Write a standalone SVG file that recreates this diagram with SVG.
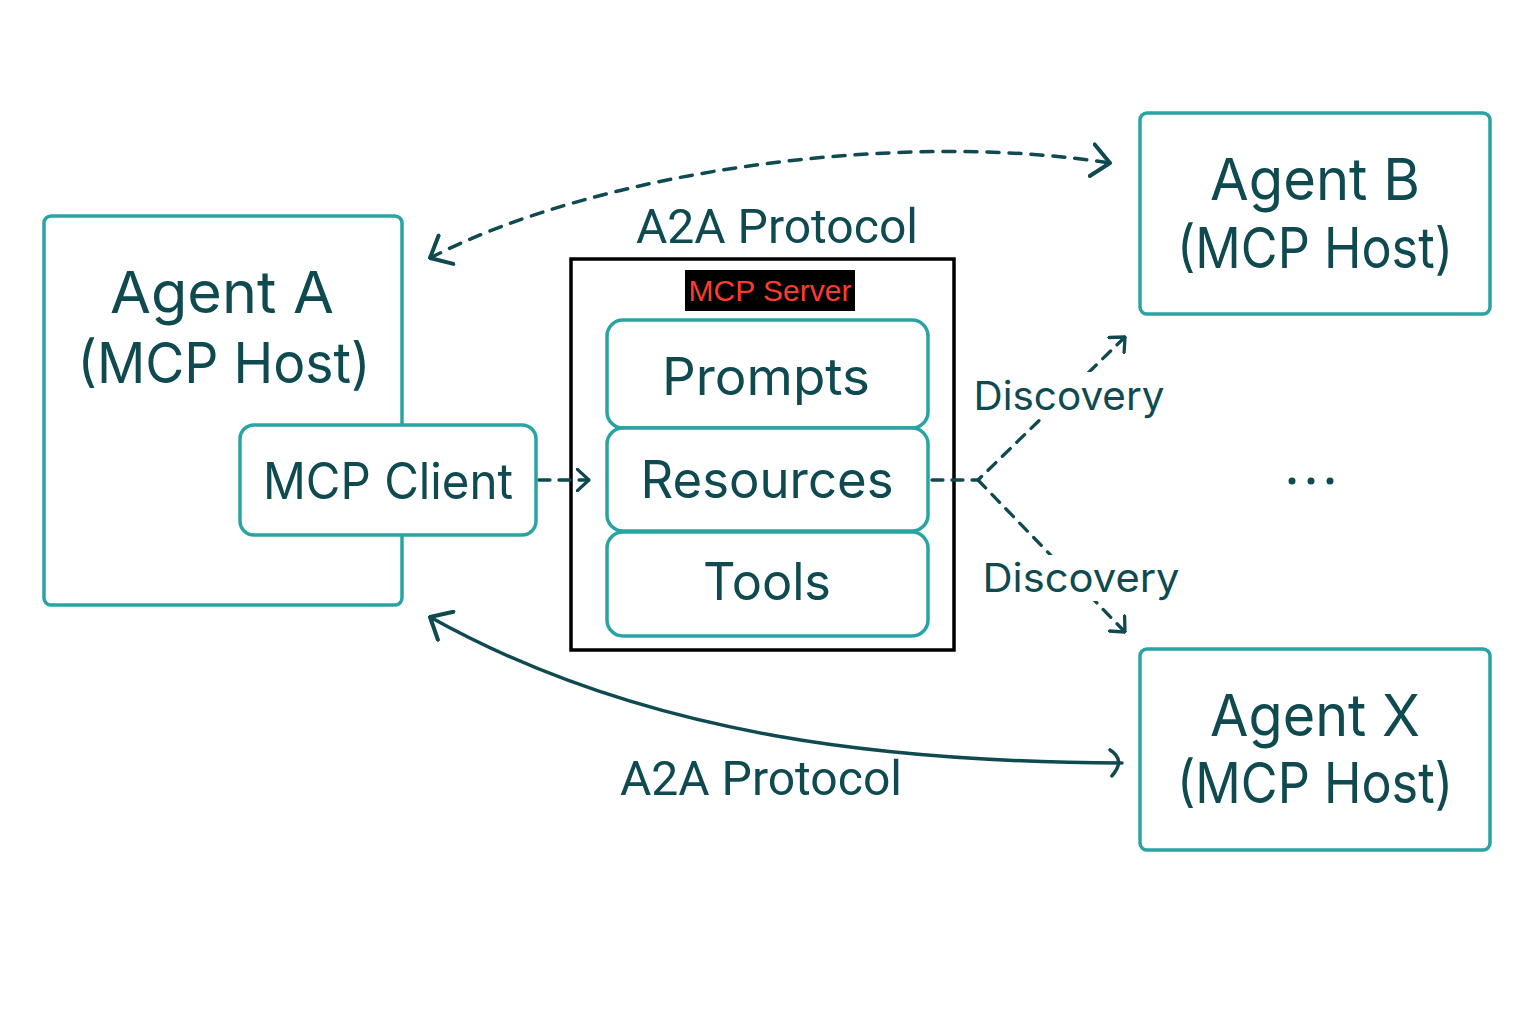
<svg xmlns="http://www.w3.org/2000/svg" width="1536" height="1024" viewBox="0 0 1536 1024">
<defs>
<style>
.box{fill:#fff;stroke:#2aa3a3;stroke-width:3.5}
.t{font-family:Inter,"Noto Sans","Liberation Sans",sans-serif;fill:#0f4a50;text-anchor:middle}
.c{font-family:Roboto,"Liberation Sans",sans-serif;fill:#0f4a50;text-anchor:middle}
.ln{fill:none;stroke:#0f4a50;stroke-width:3.5;stroke-linecap:round}
.dash{stroke-dasharray:12 10}
.dsm{stroke-dasharray:11 9;stroke-width:3.3}
</style>
<marker id="ch" viewBox="0 0 14 24" refX="13" refY="12" markerWidth="14" markerHeight="24" markerUnits="userSpaceOnUse" orient="auto-start-reverse">
<path d="M1,1 L13,12 L1,23" fill="none" stroke="#0f4a50" stroke-width="3.3" stroke-linecap="round" stroke-linejoin="round"/>
</marker>
<marker id="chb" viewBox="0 0 22 36" refX="20" refY="18" markerWidth="22" markerHeight="36" markerUnits="userSpaceOnUse" orient="auto-start-reverse">
<path d="M2,2 L20,18 L2,34" fill="none" stroke="#0f4a50" stroke-width="4" stroke-linecap="round" stroke-linejoin="round"/>
</marker>
<marker id="cx" viewBox="0 0 16 30" refX="14" refY="15" markerWidth="16" markerHeight="30" markerUnits="userSpaceOnUse" orient="auto">
<path d="M2,2 Q18,12 4,28" fill="none" stroke="#0f4a50" stroke-width="3.5" stroke-linecap="round"/>
</marker>
</defs>
<rect width="1536" height="1024" fill="#fff"/>

<g id="agentA">
<rect class="box" x="44" y="216" width="358" height="389" rx="7"/>
<text class="t" x="222" y="313" font-size="58" textLength="224" lengthAdjust="spacingAndGlyphs">Agent A</text>
<text class="t" x="224" y="383" font-size="56" textLength="293" lengthAdjust="spacingAndGlyphs">(MCP Host)</text>
</g>
<g id="mcpClient">
<rect class="box" x="240" y="425" width="296" height="110" rx="14"/>
<text class="t" x="388" y="499" font-size="50" textLength="250" lengthAdjust="spacingAndGlyphs">MCP Client</text>
</g>

<g id="mcpServer">
<rect x="571" y="259" width="383" height="391" fill="#fff" stroke="#000" stroke-width="3.5"/>
<rect x="685" y="270" width="170" height="41" fill="#000"/>
<text x="770" y="301" font-family="'Liberation Sans',Arial,sans-serif" font-size="30" fill="#ff3b2f" text-anchor="middle">MCP Server</text>
</g>
<g id="prompts">
<rect class="box" x="607" y="320" width="321" height="108" rx="16"/>
<text class="t" x="766" y="395" font-size="52" textLength="208" lengthAdjust="spacingAndGlyphs">Prompts</text>
</g>
<g id="resources">
<rect class="box" x="607" y="428" width="321" height="103" rx="16"/>
<text class="t" x="767" y="498" font-size="52" textLength="253" lengthAdjust="spacingAndGlyphs">Resources</text>
</g>
<g id="tools">
<rect class="box" x="607" y="532" width="321" height="104" rx="16"/>
<text class="t" x="767" y="600" font-size="52" textLength="128" lengthAdjust="spacingAndGlyphs">Tools</text>
</g>

<g id="agentB">
<rect class="box" x="1140" y="113" width="350" height="201" rx="7"/>
<text class="t" x="1315" y="200" font-size="58" textLength="210" lengthAdjust="spacingAndGlyphs">Agent B</text>
<text class="t" x="1315" y="268" font-size="56" textLength="276" lengthAdjust="spacingAndGlyphs">(MCP Host)</text>
</g>
<g id="agentX">
<rect class="box" x="1140" y="649" width="350" height="201" rx="7"/>
<text class="t" x="1315" y="736" font-size="58" textLength="210" lengthAdjust="spacingAndGlyphs">Agent X</text>
<text class="t" x="1315" y="803" font-size="56" textLength="276" lengthAdjust="spacingAndGlyphs">(MCP Host)</text>
</g>

<g id="connectors">
<path class="ln dash" d="M430,258 C600,170 900,130 1110,163" marker-start="url(#chb)" marker-end="url(#chb)"/>
<path class="ln" d="M430,617 C650,740 900,762 1122,763" marker-start="url(#chb)" marker-end="url(#cx)"/>
<path class="ln dsm" d="M539,480 L589,480" marker-end="url(#ch)"/>
<path class="ln dsm" d="M932,480 L978,480 L1125,337" marker-end="url(#ch)"/>
<path class="ln dsm" d="M978,480 L1125,632" marker-end="url(#ch)"/>
</g>

<g id="labels">
<text class="c" x="777" y="243" font-size="48" textLength="282" lengthAdjust="spacingAndGlyphs">A2A Protocol</text>
<text class="c" x="761" y="795" font-size="48" textLength="282" lengthAdjust="spacingAndGlyphs">A2A Protocol</text>
<rect x="970" y="372" width="196" height="46" fill="#fff"/>
<text class="t" x="1069" y="410" font-size="40" textLength="191" lengthAdjust="spacingAndGlyphs">Discovery</text>
<rect x="980" y="555" width="202" height="46" fill="#fff"/>
<text class="t" x="1081" y="592" font-size="40" textLength="197" lengthAdjust="spacingAndGlyphs">Discovery</text>
<g fill="#0f4a50"><circle cx="1292" cy="481" r="3.5"/><circle cx="1311" cy="481" r="3.5"/><circle cx="1330" cy="481" r="3.5"/></g>
</g>
</svg>
